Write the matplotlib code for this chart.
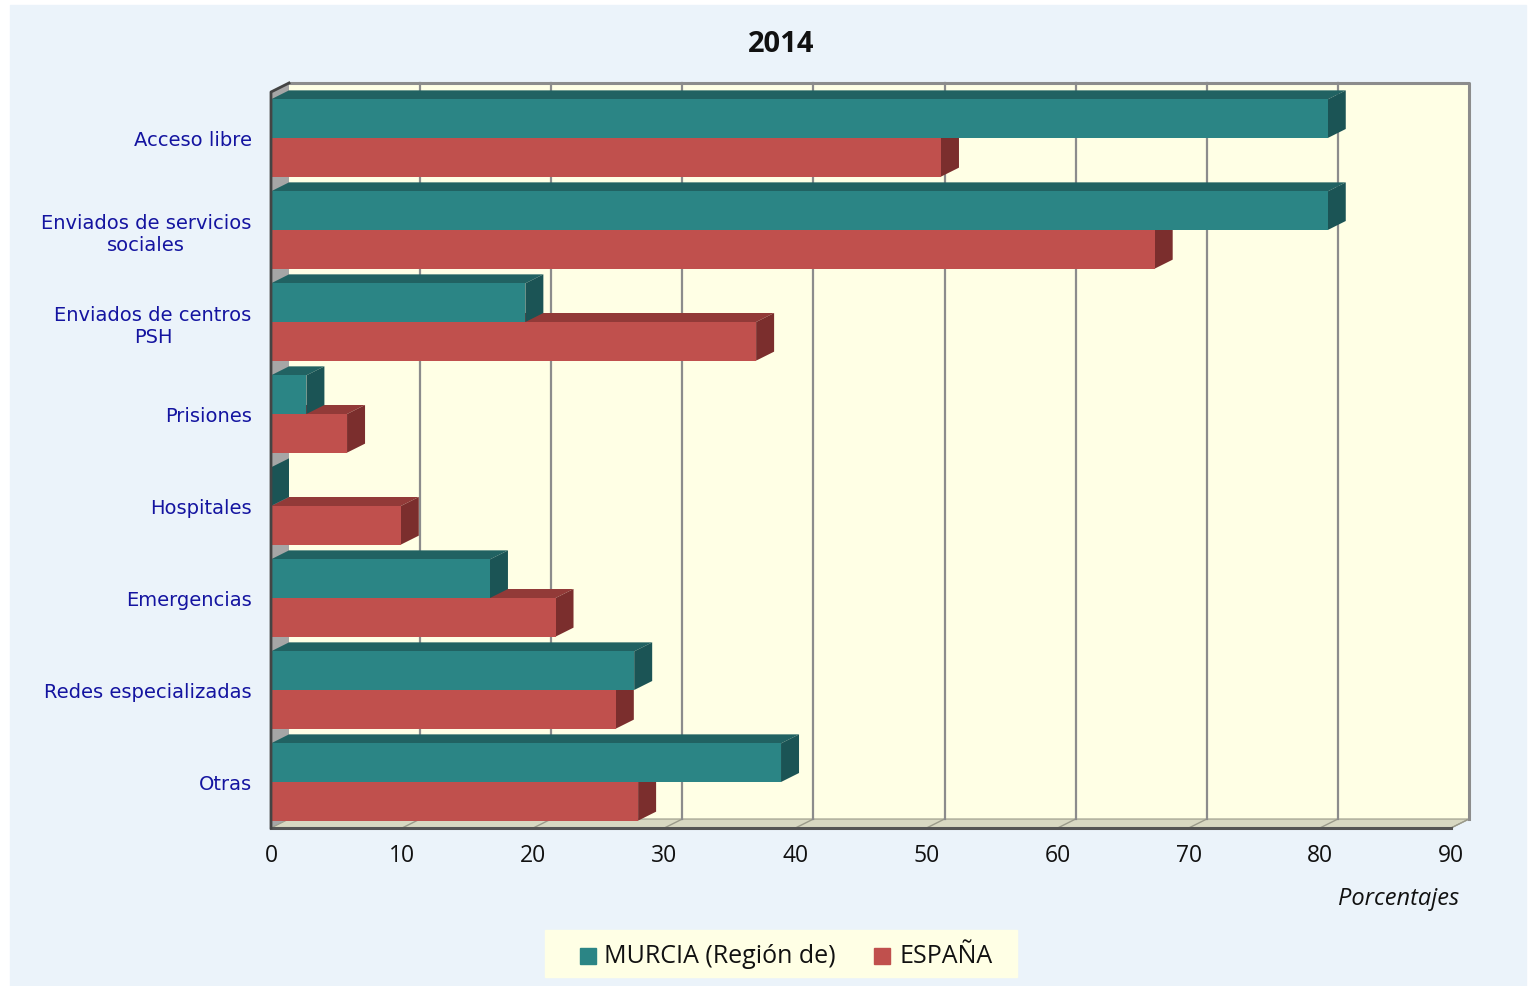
import matplotlib.pyplot as plt
from matplotlib.patches import Polygon, Rectangle

# datos (porcentajes)
categorias = ["Acceso libre", "Enviados de servicios\nsociales", "Enviados de centros\nPSH",
              "Prisiones", "Hospitales", "Emergencias", "Redes especializadas", "Otras"]
murcia = [80.6, 80.6, 19.4, 2.7, 0.0, 16.7, 27.7, 38.9]
espana = [51.1, 67.4, 37.0, 5.8, 9.9, 21.7, 26.3, 28.0]
series = ["MURCIA (Región de)", "ESPAÑA"]
ticks_x = list(range(0, 100, 10))

# colores: frente, techo, lateral
col_murcia = ("#2B8585", "#216262", "#1B5455")
col_espana = ("#C0504D", "#923A38", "#7B2E2D")

W, H = 1528, 987
fig = plt.figure(figsize=(W / 100, H / 100), dpi=100, facecolor="white")


def fx(px):
    return px / W


def fy(py):
    return 1 - py / H


# fondo azul claro
fig.patches.append(Rectangle((fx(10), 0), fx(1526) - fx(10), fy(6), transform=fig.transFigure,
                             color="#EBF3FA", zorder=-5))

ax = fig.add_axes([fx(271), fy(829), (1451 - 271) / W, (829 - 93) / H])
ax.patch.set_visible(False)
for s in ax.spines.values():
    s.set_visible(False)
ax.set_xlim(0, 90)
ax.set_ylim(len(categorias) - 0.5, -0.5)

# profundidad 3D en unidades de datos (18 px a la derecha, 10 px hacia arriba)
ddx = 18 / (1180 / 90)
ddy = 9 / 92
y0, y1 = len(categorias) - 0.5, -0.5

# pared del fondo
ax.add_patch(Polygon([(ddx, y1 - ddy), (90 + ddx, y1 - ddy), (90 + ddx, y0 - ddy), (ddx, y0 - ddy)],
                     facecolor="#FFFFE5", edgecolor="none", zorder=0.5, clip_on=False))
for v in ticks_x[1:-1]:
    ax.plot([v + ddx, v + ddx], [y0 - ddy, y1 - ddy], color="#8C8C8C", lw=1.6, zorder=1, clip_on=False)
ax.plot([ddx, 90 + ddx, 90 + ddx], [y1 - ddy, y1 - ddy, y0 - ddy], color="#8C8C8C", lw=2.2,
        zorder=1, clip_on=False)

# pared izquierda y suelo
ax.add_patch(Polygon([(0, y0), (0, y1), (ddx, y1 - ddy), (ddx, y0 - ddy)],
                     facecolor="#A6A6A6", edgecolor="none", zorder=0.8, clip_on=False))
ax.add_patch(Polygon([(0, y0), (90, y0), (90 + ddx, y0 - ddy), (ddx, y0 - ddy)],
                     facecolor="#D8D8C2", edgecolor="#9A9A8A", lw=0.8, zorder=0.9, clip_on=False))
for v in ticks_x[1:]:
    ax.plot([v, v + ddx], [y0, y0 - ddy], color="#9A9A8A", lw=1, zorder=0.95, clip_on=False)
ax.plot([0, 90], [y0, y0], color="#555555", lw=2.2, zorder=10, clip_on=False)
ax.plot([0, 0, ddx], [y0, y1, y1 - ddy], color="#444444", lw=2, zorder=10, clip_on=False)

h = 0.42


def caja(y, w, cols, z):
    front, top_c, side_c = cols
    ax.barh(y, w, height=h, color=front, zorder=z + 1, lw=0)
    top = y - h / 2
    bot = y + h / 2
    ax.add_patch(Polygon([(0, top), (w, top), (w + ddx, top - ddy), (ddx, top - ddy)],
                         facecolor=top_c, edgecolor="none", zorder=z, clip_on=False))
    ax.add_patch(Polygon([(w, top), (w, bot), (w + ddx, bot - ddy), (w + ddx, top - ddy)],
                         facecolor=side_c, edgecolor="none", zorder=z, clip_on=False))


for i in range(len(categorias)):
    caja(i + h / 2, espana[i], col_espana, 3)
    caja(i - h / 2, murcia[i], col_murcia, 5)

ax.set_xticks(ticks_x)
ax.set_xticklabels([str(t) for t in ticks_x], fontsize=16.5, family="Open Sans", color="#111111")
ax.set_yticks(range(len(categorias)))
ax.set_yticklabels(categorias, fontsize=14, family="DejaVu Sans", color="#1414A0",
                   multialignment="center")
ax.tick_params(axis="x", length=0, pad=11)
ax.tick_params(axis="y", length=0, pad=14)

fig.text(fx(781), fy(44), "2014", ha="center", va="center", fontsize=21, weight="bold",
         family="Open Sans", color="#111111")
fig.text(fx(1459), fy(899), "Porcentajes", ha="right", va="center", fontsize=17,
         style="italic", family="Open Sans", color="#111111")

# leyenda
fig.patches.append(Rectangle((fx(545), fy(978)), fx(1017) - fx(545), fy(931) - fy(978),
                             transform=fig.transFigure, color="#FFFFE5", zorder=1))
for x_sq, x_txt, cols, nombre in [(580, 604, col_murcia, series[0]), (874, 899, col_espana, series[1])]:
    fig.patches.append(Rectangle((fx(x_sq), fy(965)), fx(16), fy(949) - fy(965),
                                 transform=fig.transFigure, color=cols[0], zorder=2))
    fig.text(fx(x_txt), fy(957), nombre, ha="left", va="center", fontsize=18, family="Open Sans",
             color="#111111")

fig.savefig("out.png", dpi=100, facecolor="white")
